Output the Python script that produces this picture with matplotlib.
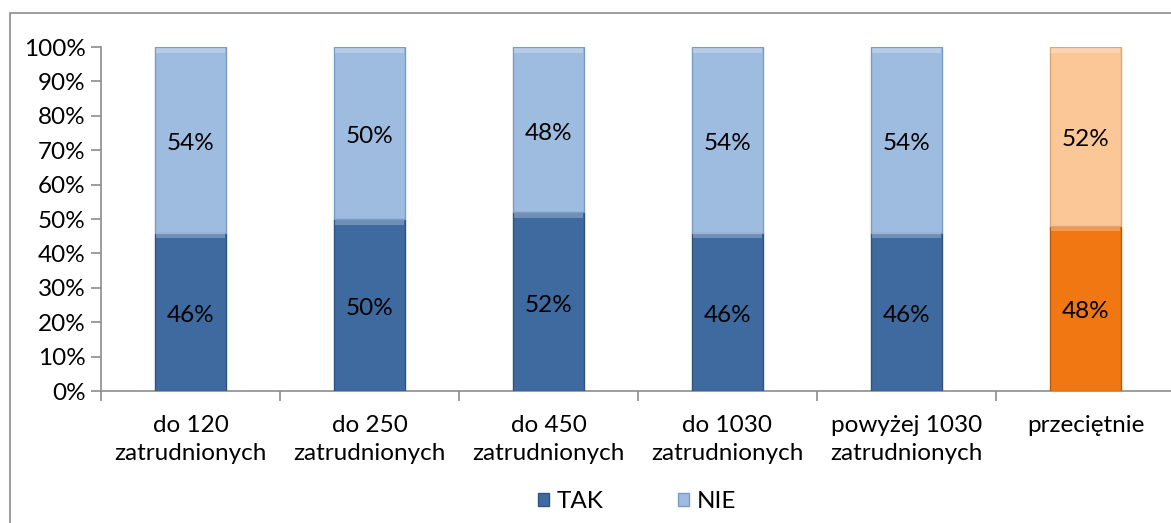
import matplotlib.pyplot as plt
import numpy as np
from matplotlib.patches import Rectangle, Patch

plt.rcParams['font.family'] = ['Lato', 'DejaVu Sans']

# ── data ────────────────────────────────────────────
categories = ["do 120\nzatrudnionych", "do 250\nzatrudnionych", "do 450\nzatrudnionych",
              "do 1030\nzatrudnionych", "powyżej 1030\nzatrudnionych", "przeciętnie"]
tak = [46, 50, 52, 46, 46, 48]
nie = [54, 50, 48, 54, 54, 52]

tak_colors = ["#3e6aa0"] * 5 + ["#f07712"]
nie_colors = ["#9ebbe0"] * 5 + ["#fcc796"]
tak_edges = ["#2f537f"] * 5 + ["#b85a0c"]
nie_edges = ["#7d9bc2"] * 5 + ["#d9a878"]

FS = 17.5

fig = plt.figure(figsize=(11.71, 5.23), dpi=100)
W, H = 1171, 523

# outer chart frame
fig.patches.append(Rectangle((10 / W, -0.1), 1.2, 1 - 13 / H + 0.1, transform=fig.transFigure,
                             fill=False, edgecolor="#8c8c8c", linewidth=1.2))

ax = fig.add_axes([101 / W, 1 - 391 / H, (6 * 179) / W, (391 - 47) / H])
x = np.arange(len(categories))
bw = 0.4

ax.bar(x, tak, bw, color=tak_colors, edgecolor=tak_edges, linewidth=1, zorder=3)
ax.bar(x, nie, bw, bottom=tak, color=nie_colors, edgecolor=nie_edges, linewidth=1, zorder=3)

# light bevel strip along the top of every segment
for i in range(len(categories)):
    for base, val in [(0, tak[i]), (tak[i], nie[i])]:
        top = base + val
        ax.add_patch(Rectangle((x[i] - bw / 2 + 0.01, top - 1.6), bw - 0.02, 1.4,
                               facecolor="white", alpha=0.25, linewidth=0, zorder=4))

# value labels, nudged a touch below segment centre
for i in range(len(categories)):
    ax.text(x[i], tak[i] / 2 - 1, f"{tak[i]}%", ha="center", va="center", fontsize=FS, zorder=5)
    ax.text(x[i], tak[i] + nie[i] / 2 - 1, f"{nie[i]}%", ha="center", va="center",
            fontsize=FS, zorder=5)

ax.set_xlim(-0.5, len(categories) - 0.5)
ax.set_ylim(0, 100)
ax.set_yticks(range(0, 101, 10))
ax.set_yticklabels([f"{v}%" for v in range(0, 101, 10)], fontsize=FS)
ax.set_xticks(x)
ax.set_xticklabels(categories, fontsize=FS, linespacing=1.45)
ax.set_xticks(np.arange(-0.5, len(categories), 1), minor=True)
ax.tick_params(axis="x", which="major", length=0, pad=17)
ax.tick_params(axis="x", which="minor", length=7, color="#8c8c8c", width=1.2)
ax.tick_params(axis="y", length=7, color="#8c8c8c", width=1.2, pad=4)

for s in ["top", "right"]:
    ax.spines[s].set_visible(False)
for s in ["left", "bottom"]:
    ax.spines[s].set_color("#8c8c8c")
    ax.spines[s].set_linewidth(1.2)

handles = [Patch(facecolor="#3e6aa0", edgecolor="#2f537f"),
           Patch(facecolor="#9ebbe0", edgecolor="#7d9bc2")]
fig.legend(handles, ["TAK", "NIE"], loc="center", bbox_to_anchor=(637 / W, 1 - 502 / H),
           ncol=2, frameon=False, fontsize=FS, handlelength=0.45, handleheight=0.45,
           handletextpad=0.3, columnspacing=3.1)

fig.savefig("out.png", dpi=100)
